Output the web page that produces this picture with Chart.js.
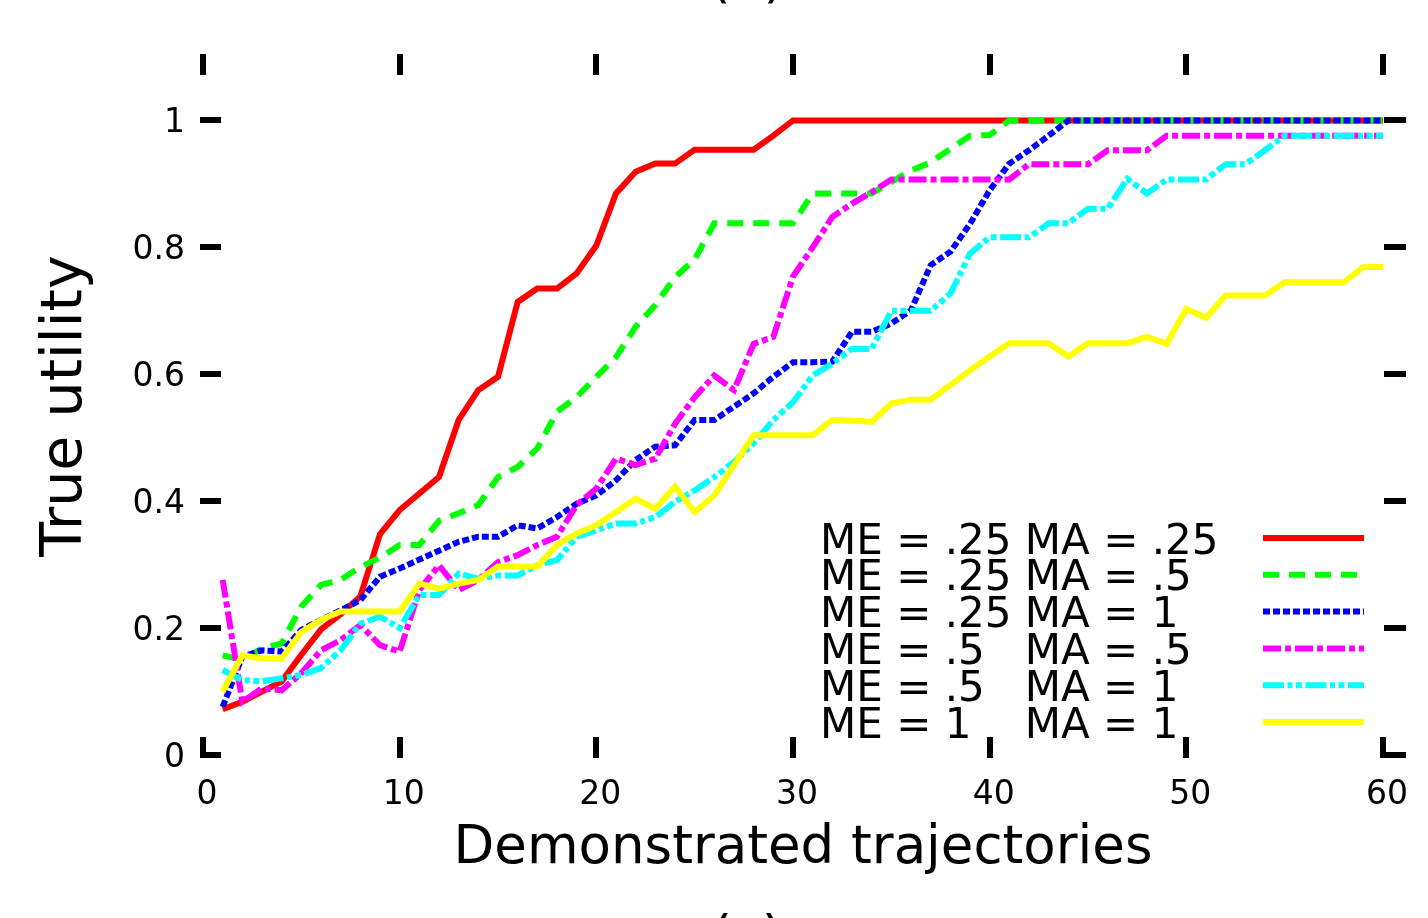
<!DOCTYPE html>
<html>
<head>
<meta charset="utf-8">
<script src="https://cdn.jsdelivr.net/npm/chart.js@4.4.1/dist/chart.umd.min.js"></script>
<style>
html,body{margin:0;padding:0;background:#fff;overflow:hidden}
canvas{display:block}
</style>
</head>
<body>
<canvas id="c" width="1428" height="918" style="width:1428px;height:918px"></canvas>
<script>
// ---------------- data ----------------
const xValues = [1,2,3,4,5,6,7,8,9,10,11,12,13,14,15,16,17,18,19,20,
                 21,22,23,24,25,26,27,28,29,30,31,32,33,34,35,36,37,38,39,40,
                 41,42,43,44,45,46,47,48,49,50,51,52,53,54,55,56,57,58,59,60];
const xTicks = [0,10,20,30,40,50,60];
const yTicks = [0,0.2,0.4,0.6,0.8,1];
const yTickLabels = ['0','0.2','0.4','0.6','0.8','1'];
const seriesNames = ['ME = .25 MA = .25','ME = .25 MA = .5','ME = .25 MA = 1',
                     'ME = .5   MA = .5','ME = .5   MA = 1','ME = 1    MA = 1'];
const xTitle = 'Demonstrated trajectories';
const yTitle = 'True utility';
const captionTop = '(a)';
const captionBottom = '(c)';

const me025ma025 = [0.072,0.084,0.100,0.116,0.158,0.198,0.222,0.250,0.348,0.386,
                    0.412,0.438,0.528,0.575,0.596,0.714,0.735,0.735,0.759,0.803,
                    0.885,0.919,0.932,0.932,0.954,0.954,0.954,0.954,0.976,1.000,
                    1.000,1.000,1.000,1.000,1.000,1.000,1.000,1.000,1.000,1.000,
                    1.000,1.000,1.000,1.000,1.000,1.000,1.000,1.000,1.000,1.000,
                    1.000,1.000,1.000,1.000,1.000,1.000,1.000,1.000,1.000,1.000];
const me025ma05  = [0.157,0.150,0.168,0.176,0.234,0.268,0.276,0.296,0.311,0.331,
                    0.331,0.369,0.381,0.394,0.438,0.454,0.483,0.541,0.564,0.596,
                    0.627,0.675,0.709,0.753,0.781,0.838,0.838,0.838,0.838,0.838,
                    0.885,0.885,0.885,0.885,0.903,0.921,0.934,0.955,0.976,0.977,
                    1.000,1.000,1.000,1.000,1.000,1.000,1.000,1.000,1.000,1.000,
                    1.000,1.000,1.000,1.000,1.000,1.000,1.000,1.000,1.000,1.000];
const me025ma1   = [0.076,0.155,0.165,0.163,0.197,0.213,0.228,0.244,0.281,0.294,
                    0.308,0.322,0.336,0.344,0.344,0.362,0.357,0.375,0.396,0.409,
                    0.433,0.465,0.486,0.488,0.528,0.528,0.549,0.570,0.596,0.619,
                    0.619,0.620,0.667,0.667,0.680,0.701,0.772,0.793,0.837,0.890,
                    0.932,0.953,0.976,1.000,1.000,1.000,1.000,1.000,1.000,1.000,
                    1.000,1.000,1.000,1.000,1.000,1.000,1.000,1.000,1.000,1.000];
const me05ma05   = [0.276,0.084,0.105,0.102,0.129,0.165,0.181,0.205,0.173,0.163,
                    0.260,0.299,0.260,0.276,0.304,0.315,0.331,0.344,0.394,0.420,
                    0.467,0.457,0.467,0.522,0.564,0.598,0.575,0.648,0.659,0.754,
                    0.800,0.848,0.869,0.887,0.907,0.907,0.907,0.907,0.907,0.907,
                    0.907,0.931,0.931,0.931,0.931,0.953,0.953,0.953,0.976,0.976,
                    0.976,0.976,0.976,0.976,0.976,0.976,0.976,0.976,0.976,0.976];
const me05ma1    = [0.134,0.118,0.116,0.121,0.126,0.137,0.165,0.207,0.218,0.200,
                    0.252,0.252,0.286,0.278,0.283,0.283,0.299,0.307,0.344,0.354,
                    0.365,0.365,0.375,0.399,0.417,0.438,0.462,0.491,0.528,0.556,
                    0.598,0.617,0.640,0.640,0.700,0.700,0.700,0.727,0.790,0.816,
                    0.816,0.816,0.838,0.838,0.861,0.861,0.908,0.885,0.907,0.907,
                    0.907,0.931,0.931,0.953,0.976,0.976,0.976,0.976,0.976,0.976];
const me1ma1     = [0.100,0.157,0.152,0.152,0.194,0.213,0.226,0.226,0.226,0.226,
                    0.270,0.262,0.270,0.276,0.297,0.297,0.297,0.331,0.349,0.362,
                    0.383,0.404,0.388,0.423,0.383,0.409,0.457,0.504,0.504,0.504,
                    0.504,0.528,0.527,0.525,0.554,0.560,0.560,0.583,0.606,0.628,
                    0.649,0.649,0.649,0.628,0.649,0.649,0.649,0.659,0.648,0.703,
                    0.689,0.724,0.724,0.724,0.745,0.745,0.745,0.745,0.769,0.769];

const seriesValues = [me025ma025, me025ma05, me025ma1, me05ma05, me05ma1, me1ma1];
const seriesColors = ['#ff0000','#00ff00','#0000ff','#ff00ff','#00ffff','#ffff00'];
const seriesDashes = [[], [16,10], [7,3], [18,4,6,4], [21,3.5,5,3.5,6,3.5], []];

// ---------------- chart ----------------
const FONT = 'DejaVu Sans';

const decorPlugin = {
  id: 'decor',
  afterDraw(chart) {
    const ctx = chart.ctx;
    const xs = chart.scales.x, ys = chart.scales.y;
    const a = chart.chartArea;
    ctx.save();
    ctx.fillStyle = '#000';
    // inward tick marks (bottom & top) and y tick marks (left & right)
    xTicks.forEach(v => {
      const px = Math.round(xs.getPixelForValue(v));
      ctx.fillRect(px - 3, a.bottom - 18, 6, 21);
      ctx.fillRect(px - 3, a.top - 3, 6, 21);
    });
    yTicks.forEach(v => {
      const py = Math.round(ys.getPixelForValue(v));
      ctx.fillRect(a.left - 3, py - 3, 21, 6);
      ctx.fillRect(a.right + 1, py - 3, 22, 6);
    });
    // x-axis title
    ctx.fillStyle = '#000';
    ctx.font = '53px "' + FONT + '"';
    ctx.textAlign = 'center';
    ctx.textBaseline = 'middle';
    ctx.fillText(xTitle, (a.left + a.right) / 2 + 10, 849);
    // legend
    ctx.font = '42px "' + FONT + '"';
    ctx.textBaseline = 'alphabetic';
    ctx.textAlign = 'left';
    chart.data.datasets.forEach((ds, i) => {
      const cy = 538 + i * 36.8;
      ctx.fillStyle = '#000';
      ctx.fillText(ds.label, 820, cy + 15.5);
      ctx.strokeStyle = ds.borderColor;
      ctx.lineWidth = ds.borderWidth;
      ctx.setLineDash(ds.borderDash || []);
      ctx.lineCap = 'butt';
      ctx.beginPath();
      ctx.moveTo(1263, cy);
      ctx.lineTo(1364, cy);
      ctx.stroke();
    });
    ctx.setLineDash([]);
    // neighbouring figure captions (cut off by the page edges)
    ctx.fillStyle = '#000';
    ctx.font = '54px "' + FONT + '"';
    ctx.textAlign = 'center';
    ctx.fillText(captionTop, 747, -3);
    ctx.fillText(captionBottom, 747, 954);
    ctx.restore();
  }
};

const datasets = seriesNames.map((name, i) => ({
  label: name,
  data: xValues.map((x, j) => ({ x: x, y: seriesValues[i][j] })),
  borderColor: seriesColors[i],
  backgroundColor: seriesColors[i],
  borderWidth: 6,
  borderDash: seriesDashes[i],
  borderJoinStyle: 'miter',
  borderCapStyle: 'butt',
  pointRadius: 0,
  tension: 0,
  fill: false,
  order: seriesNames.length - i
}));

new Chart(document.getElementById('c'), {
  type: 'line',
  data: { datasets: datasets },
  plugins: [decorPlugin],
  options: {
    responsive: false,
    animation: false,
    devicePixelRatio: 1,
    layout: { padding: { top: 57, right: 45, left: 0, bottom: 0 } },
    plugins: { legend: { display: false }, tooltip: { enabled: false }, title: { display: false } },
    scales: {
      x: {
        type: 'linear', position: 'bottom', min: 0, max: 60,
        afterBuildTicks: s => { s.ticks = xTicks.map(v => ({ value: v })); },
        afterFit: s => { s.height = 163; },
        grid: { display: false, drawTicks: false },
        border: { display: false },
        ticks: {
          autoSkip: false, maxRotation: 0, padding: 21, labelOffset: 4, color: '#000',
          font: { family: FONT, size: 33 },
          callback: (v, i) => String(xTicks[i])
        },
        title: { display: false, text: xTitle }
      },
      y: {
        type: 'linear', position: 'left', min: 0, max: 1.1,
        afterBuildTicks: s => { s.ticks = yTicks.map(v => ({ value: v })); },
        afterFit: s => { s.width = 203; },
        grid: { display: false, drawTicks: false },
        border: { display: false },
        ticks: {
          autoSkip: false, padding: 18, labelOffset: 3, color: '#000',
          font: { family: FONT, size: 33 },
          callback: (v, i) => yTickLabels[i]
        },
        title: {
          display: true, text: yTitle, color: '#000',
          font: { family: FONT, size: 57 },
          padding: { top: 32, bottom: 0 }
        }
      }
    }
  }
});
</script>
</body>
</html>
